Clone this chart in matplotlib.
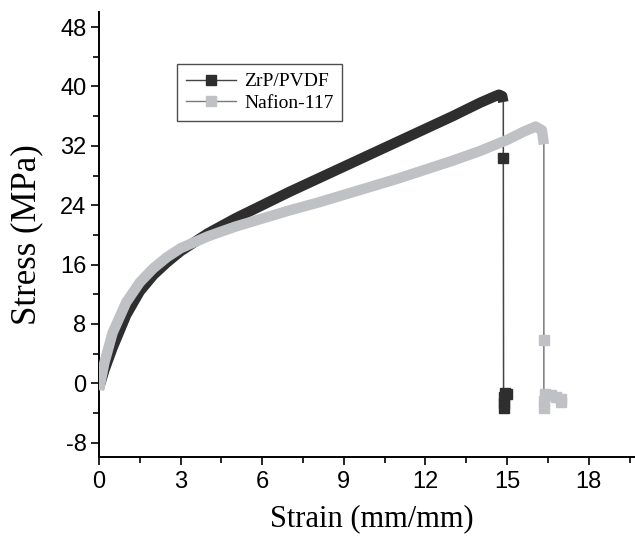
import matplotlib
matplotlib.use("Agg")
import matplotlib.pyplot as plt
from matplotlib.lines import Line2D
from matplotlib.ticker import MultipleLocator

plt.rcParams["axes.unicode_minus"] = False

# ZrP/PVDF: tensile curve, then the failure drop
zrp_strain = [0.0, 0.2, 0.5, 1.0, 1.5, 2.0, 2.5, 3.0, 4.0, 5.0, 6.0, 7.0, 8.0, 9.0,
              10.0, 11.0, 12.0, 13.0, 14.0, 14.5, 14.7, 14.82, 14.86]
zrp_stress = [-0.6, 1.8, 4.8, 9.2, 12.4, 14.6, 16.3, 17.8, 20.2, 22.2, 24.0, 25.8, 27.5,
              29.2, 30.9, 32.6, 34.3, 36.0, 37.8, 38.6, 38.9, 38.7, 37.9]
zrp_fail_strain = [14.86, 14.87, 14.87, 14.88, 14.93, 14.98]
zrp_fail_stress = [30.4, -3.4, -2.6, -1.8, -1.3, -1.4]

# Nafion-117
naf_strain = [0.0, 0.2, 0.5, 1.0, 1.5, 2.0, 2.5, 3.0, 4.0, 5.0, 6.0, 7.0, 8.0, 9.0,
              10.0, 11.0, 12.0, 13.0, 14.0, 15.0, 15.6, 16.05, 16.28, 16.35]
naf_stress = [-0.9, 2.8, 6.8, 10.9, 13.6, 15.5, 17.0, 18.2, 19.8, 21.1, 22.2, 23.3, 24.3,
              25.4, 26.5, 27.6, 28.8, 30.0, 31.3, 32.8, 33.9, 34.6, 34.1, 32.2]
naf_fail_strain = [16.35, 16.35, 16.35, 16.38, 16.6, 16.8, 16.97, 16.97]
naf_fail_stress = [5.8, -3.3, -2.4, -1.4, -1.6, -1.9, -2.1, -2.5]

labels = ["ZrP/PVDF", "Nafion-117"]
band_colors = ["#2e2e2e", "#c0c1c5"]
line_colors = ["#444444", "#7a7a7a"]

fig = plt.figure(figsize=(6.35, 5.38), dpi=100)
ax = fig.add_axes([99 / 635, 1 - 456.7 / 538, 536 / 635, 444.4 / 538])

series = [(zrp_strain, zrp_stress, zrp_fail_strain, zrp_fail_stress),
          (naf_strain, naf_stress, naf_fail_strain, naf_fail_stress)]

for i, (xs, ys, fx, fy) in enumerate(series):
    # thin connecting line through everything (visible on the drop)
    ax.plot(xs + fx, ys + fy, color=line_colors[i], lw=1.1, zorder=2 + i)
    # dense symbols appear as a thick band
    ax.plot(xs, ys, color=band_colors[i], lw=7.5, solid_capstyle="butt",
            solid_joinstyle="round", zorder=3 + i)
    ax.plot(fx, fy, ls="none", marker="s", ms=7, color=band_colors[i],
            mec=band_colors[i], zorder=4 + i)

ax.set_xlim(0, 19.7)
ax.set_ylim(-9.9, 50)
ax.xaxis.set_major_locator(MultipleLocator(3))
ax.xaxis.set_minor_locator(MultipleLocator(1.5))
ax.yaxis.set_major_locator(MultipleLocator(8))
ax.yaxis.set_minor_locator(MultipleLocator(4))

for s in ["top", "right"]:
    ax.spines[s].set_visible(False)
for s in ["left", "bottom"]:
    ax.spines[s].set_linewidth(1.4)

ax.tick_params(which="major", direction="out", length=6, width=1.2, labelsize=17)
ax.tick_params(axis="x", which="major", pad=4)
ax.tick_params(axis="y", which="major", pad=3)
ax.tick_params(which="minor", direction="out", length=4, width=1.2)
for t in ax.get_xticklabels() + ax.get_yticklabels():
    t.set_fontfamily("Liberation Sans")

ax.set_xlabel("Strain (mm/mm)", fontfamily="Liberation Serif", fontsize=22)
ax.set_ylabel("Stress (MPa)", fontfamily="Liberation Serif", fontsize=25)
ax.xaxis.set_label_coords(0.509, -0.106)
ax.yaxis.set_label_coords(-0.104, 0.5)

handles = [Line2D([], [], color=line_colors[i], lw=1.0, marker="s", ms=7,
                  mfc=band_colors[i], mec=band_colors[i]) for i in range(2)]
leg = ax.legend(handles, labels, loc="upper left", bbox_to_anchor=(0.1455, 0.8837),
                borderaxespad=0, frameon=True, fancybox=False, handlelength=2.6,
                handletextpad=0.4, borderpad=0.45, labelspacing=0.2,
                prop={"family": "Liberation Serif", "size": 14})
leg.get_frame().set_edgecolor("#222222")
leg.get_frame().set_linewidth(1.0)

fig.savefig("out.png", dpi=100)
